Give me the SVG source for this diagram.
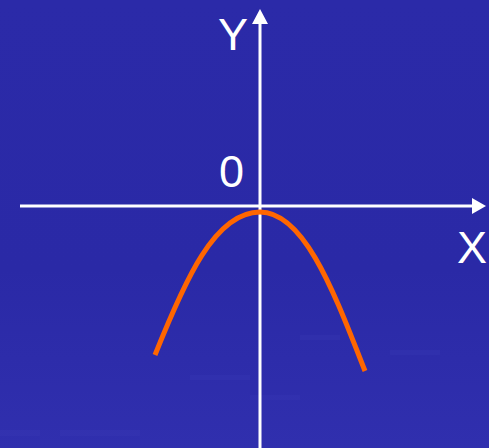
<svg xmlns="http://www.w3.org/2000/svg" width="489" height="448" viewBox="0 0 489 448">
<defs>
<style>
.axis{stroke:#ffffff;stroke-width:3;fill:none}
.lbl{font-family:"Liberation Sans",Arial,sans-serif;font-size:45px;fill:#ffffff}
.curve{stroke:#ff6600;stroke-width:5;fill:none}
.streak{fill:#3a3ab8;opacity:0.25}
</style>
<linearGradient id="bg" x1="0" y1="0" x2="0" y2="1">
<stop offset="0" stop-color="#2b2aa8"/>
<stop offset="0.6" stop-color="#2a29a6"/>
<stop offset="1" stop-color="#302fae"/>
</linearGradient>
</defs>
<rect width="489" height="448" fill="url(#bg)"/>
<g id="texture">
<rect class="streak" x="190" y="375" width="60" height="5"/>
<rect class="streak" x="250" y="395" width="50" height="5"/>
<rect class="streak" x="0" y="430" width="40" height="6"/>
<rect class="streak" x="300" y="335" width="40" height="5"/>
<rect class="streak" x="60" y="430" width="80" height="6"/>
<rect class="streak" x="390" y="350" width="50" height="5"/>
</g>
<g id="connectors">
<line id="x-axis" class="axis" x1="20" y1="206" x2="474" y2="206"/>
<polygon points="486,206 472,198 472,214" fill="#ffffff"/>
<line id="y-axis" class="axis" x1="260" y1="448" x2="260" y2="22"/>
<polygon points="260,9 252,24 268,24" fill="#ffffff"/>
</g>
<g id="curve">
<path class="curve" d="M155,355 C185,280 215,212 260,212 C305,212 335,295 365,371"/>
</g>
<g id="label-y"><text class="lbl" x="218" y="50">Y</text></g>
<g id="label-0"><text class="lbl" x="219" y="187">0</text></g>
<g id="label-x"><text class="lbl" x="457" y="263">X</text></g>
</svg>
